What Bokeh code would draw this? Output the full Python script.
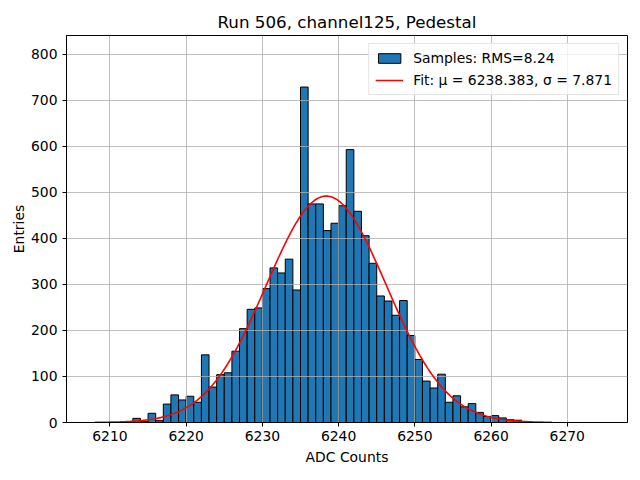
import numpy as np
from bokeh.plotting import figure
from bokeh.models import Range1d, FixedTicker, Legend, LegendItem
from bokeh.embed import file_html
from bokeh.resources import INLINE

# ---- data ----
bin_left = list(range(6213, 6265))  # bins of width 1 ADC count
counts = [9, 2, 20, 4, 40, 60, 49, 57, 44, 147,
          77, 104, 108, 155, 204, 246, 249, 291, 336, 325,
          355, 288, 729, 475, 475, 417, 433, 471, 593, 459,
          406, 346, 275, 264, 233, 265, 189, 137, 90, 75,
          105, 44, 58, 34, 41, 22, 13, 15, 10, 6,
          5, 2]
fit_mu = 6238.383
fit_sigma = 7.871
fit_amp = 492.0
fit_x_min, fit_x_max = 6208.0, 6268.0
rms = 8.24
x_ticks = [6210, 6220, 6230, 6240, 6250, 6260, 6270]
y_ticks = [0, 100, 200, 300, 400, 500, 600, 700, 800]

FONT = "DejaVu Sans"

p = figure(width=640, height=480, output_backend="svg", toolbar_location=None,
           x_range=Range1d(6204.3, 6277.9), y_range=Range1d(0, 841))
p.min_border_left = 66
p.min_border_right = 13
p.min_border_top = 35
p.min_border_bottom = 58

p.title.text = "Run 506, channel125, Pedestal"
p.title.align = "center"
p.title.text_font = FONT
p.title.text_font_size = "16.7px"
p.title.text_font_style = "normal"
p.title.text_color = "black"
p.title.offset = 0
p.title.standoff = 7

bin_right = [b + 1 for b in bin_left]
bars = p.quad(left=bin_left, right=bin_right, bottom=0, top=counts,
              fill_color="#1f77b4", line_color="black", line_width=1.0)
bars.level = "image"

fx = np.linspace(fit_x_min, fit_x_max, 400)
fy = fit_amp * np.exp(-0.5 * ((fx - fit_mu) / fit_sigma) ** 2)
fit = p.line(fx, fy, line_color="red", line_width=1.6)

for ax in (p.xaxis, p.yaxis):
    ax.major_label_text_font = FONT
    ax.major_label_text_font_size = "13.9px"
    ax.major_label_text_color = "black"
    ax.axis_label_text_font = FONT
    ax.axis_label_text_font_size = "13.9px"
    ax.axis_label_text_font_style = "normal"
    ax.axis_label_text_color = "black"
    ax.major_tick_in = 0
    ax.major_tick_out = 4
    ax.minor_tick_line_color = None
    ax.axis_line_color = "black"
    ax.major_tick_line_color = "black"

p.xaxis.major_label_standoff = 4
p.yaxis.major_label_standoff = 5
p.xaxis.ticker = FixedTicker(ticks=x_ticks)
p.yaxis.ticker = FixedTicker(ticks=y_ticks)
p.xaxis.axis_label = "ADC Counts"
p.yaxis.axis_label = "Entries"
p.xaxis.axis_label_standoff = 5
p.yaxis.axis_label_standoff = 1

p.outline_line_color = "black"
p.outline_line_width = 1
p.xgrid.grid_line_color = "#b0b0b0"
p.ygrid.grid_line_color = "#b0b0b0"
p.xgrid.grid_line_width = 0.8
p.ygrid.grid_line_width = 0.8

legend = Legend(items=[
    LegendItem(label="Samples: RMS=%.2f" % rms, renderers=[bars]),
    LegendItem(label="Fit: μ = %.3f, σ = %.3f" % (fit_mu, fit_sigma), renderers=[fit]),
], location="top_right")
legend.label_text_font = FONT
legend.label_text_font_size = "13.9px"
legend.label_text_color = "black"
legend.border_line_color = "#cccccc"
legend.background_fill_alpha = 0.8
legend.margin = 8
legend.padding = 6
legend.spacing = 6
legend.glyph_width = 28
legend.glyph_height = 12
legend.label_height = 16
legend.label_standoff = 10
p.add_layout(legend)

open("out.html", "w").write(file_html(p, INLINE))
